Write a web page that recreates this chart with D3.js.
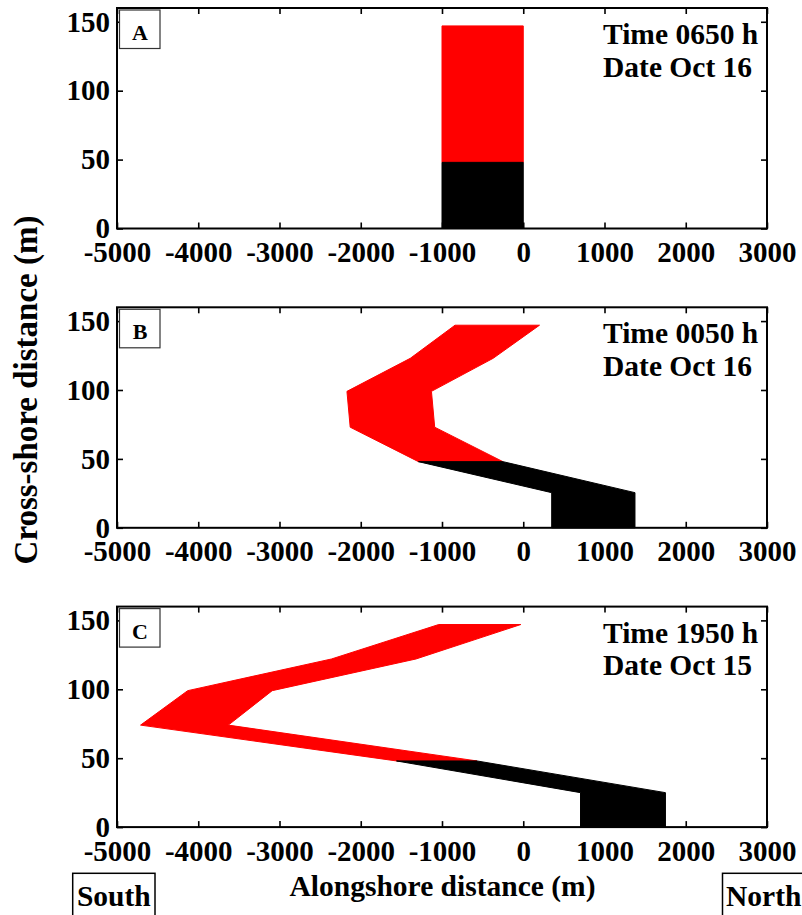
<!DOCTYPE html>
<html>
<head>
<meta charset="utf-8">
<script src="https://cdn.jsdelivr.net/npm/d3@7"></script>
<style>
  html, body { margin: 0; padding: 0; background: #fff; }
  svg { display: block; }
  svg text { font-family: "Liberation Serif", "DejaVu Serif", serif !important; font-weight: bold; }
</style>
</head>
<body>
<svg id="chart" width="802" height="915"></svg>
<script>
// ---------- data ----------
const xTicks = [-5000, -4000, -3000, -2000, -1000, 0, 1000, 2000, 3000];
const yTicks = [0, 50, 100, 150];
const panelNames = ["A", "B", "C"];
const timeLabels = ["Time 0650 h", "Time 0050 h", "Time 1950 h"];
const dateLabels = ["Date Oct 16", "Date Oct 16", "Date Oct 15"];
const splitDepth = 48; // black below, red above

// cross-shore levels (m) and alongshore edges (m) of the band, per panel
const levelsA = [0, 48, 147];
const leftA   = [-1000, -1000, -1000];
const rightA  = [0, 0, 0];

const levelsB = [0, 25.5, 48, 73, 99, 123, 147];
const leftB   = [350, 350, -1290, -2130, -2170, -1390, -840];
const rightB  = [1375, 1375, -250, -1090, -1130, -370, 200];

const levelsC = [0, 25, 48, 74, 99, 122, 147];
const leftC   = [705, 705, -1560, -4710, -4130, -2360, -1040];
const rightC  = [1750, 1750, -570, -3630, -3090, -1320, -30];

const panels = [
  { levels: levelsA, left: leftA, right: rightA },
  { levels: levelsB, left: leftB, right: rightB },
  { levels: levelsC, left: leftC, right: rightC }
];

// ---------- layout ----------
const svg = d3.select("#chart");
const x0 = 117, x1 = 767;
const panelTop0 = 8, panelStep = 299.3, panelH = 220.5;
const fontTick = 29, fontText = 29.5;
const fmt = d => String(d); // plain hyphen-minus like the original

const x = d3.scaleLinear().domain([-5000, 3000]).range([x0, x1]);

panels.forEach((p, i) => {
  const top = panelTop0 + i * panelStep;
  const bottom = top + panelH;
  const y = d3.scaleLinear().domain([0, 160]).range([bottom, top]);
  const g = svg.append("g");

  // band polygons
  const lower = [], upper = [];
  p.levels.forEach((lv, k) => {
    if (lv <= splitDepth) lower.push(k);
    if (lv >= splitDepth) upper.push(k);
  });
  const poly = idx => {
    const pts = [];
    idx.forEach(k => pts.push([x(p.left[k]), y(p.levels[k])]));
    idx.slice().reverse().forEach(k => pts.push([x(p.right[k]), y(p.levels[k])]));
    return pts;
  };
  const line = d3.line().curve(d3.curveLinearClosed);
  g.append("path").attr("d", line(poly(upper)))
    .attr("fill", "#ff0000").attr("stroke", "#ff0000").attr("stroke-width", 1).attr("stroke-linejoin", "round");
  g.append("path").attr("d", line(poly(lower)))
    .attr("fill", "#000").attr("stroke", "#000").attr("stroke-width", 1).attr("stroke-linejoin", "round");

  // axes
  const styleAxis = sel => {
    sel.select(".domain").remove();
    sel.selectAll(".tick line").attr("stroke", "#000").attr("stroke-width", 1.6);
    sel.attr("font-family", null).attr("font-size", null);
    sel.selectAll(".tick text").attr("fill", "#000").style("font-size", fontTick + "px");
  };
  g.append("g").attr("transform", `translate(0,${bottom})`)
    .call(d3.axisBottom(x).tickValues(xTicks).tickFormat(fmt).tickSizeInner(-6).tickSizeOuter(0).tickPadding(13))
    .call(styleAxis);
  g.append("g").attr("transform", `translate(0,${top})`)
    .call(d3.axisTop(x).tickValues(xTicks).tickFormat("").tickSizeInner(-6).tickSizeOuter(0))
    .call(styleAxis);
  g.append("g").attr("transform", `translate(${x0},0)`)
    .call(d3.axisLeft(y).tickValues(yTicks).tickFormat(fmt).tickSizeInner(-6).tickSizeOuter(0).tickPadding(7))
    .call(styleAxis);
  g.append("g").attr("transform", `translate(${x1},0)`)
    .call(d3.axisRight(y).tickValues(yTicks).tickFormat("").tickSizeInner(-6).tickSizeOuter(0))
    .call(styleAxis);

  // frame
  g.append("rect").attr("x", x0).attr("y", top).attr("width", x1 - x0).attr("height", bottom - top)
    .attr("fill", "none").attr("stroke", "#000").attr("stroke-width", 2);

  // panel letter box
  g.append("rect").attr("x", x0 + 2.5).attr("y", top + 2).attr("width", 40.5).attr("height", 38.5)
    .attr("fill", "#fff").attr("stroke", "#333").attr("stroke-width", 1.2);
  g.append("text").attr("x", x0 + 23).attr("y", top + 32).attr("text-anchor", "middle")
    .style("font-size", "22px").text(panelNames[i]);

  // time / date annotation
  g.append("text").attr("x", 603).attr("y", top + 36).style("font-size", fontText + "px").text(timeLabels[i]);
  g.append("text").attr("x", 603).attr("y", top + 68.5).style("font-size", fontText + "px").text(dateLabels[i]);
});

// axis titles
svg.append("text").attr("transform", "translate(37,390) rotate(-90)").attr("text-anchor", "middle")
  .style("font-size", "33px").text("Cross-shore distance (m)");
svg.append("text").attr("x", 442.5).attr("y", 896).attr("text-anchor", "middle")
  .style("font-size", fontText + "px").text("Alongshore distance (m)");

// direction boxes
svg.append("rect").attr("x", 72.7).attr("y", 873.3).attr("width", 82.3).attr("height", 60)
  .attr("fill", "#fff").attr("stroke", "#000").attr("stroke-width", 1.5);
svg.append("text").attr("x", 113.8).attr("y", 906).attr("text-anchor", "middle")
  .style("font-size", fontText + "px").text("South");
svg.append("rect").attr("x", 722.5).attr("y", 873.3).attr("width", 100).attr("height", 60)
  .attr("fill", "#fff").attr("stroke", "#000").attr("stroke-width", 1.5);
svg.append("text").attr("x", 726).attr("y", 906)
  .style("font-size", fontText + "px").text("North");
</script>
</body>
</html>
